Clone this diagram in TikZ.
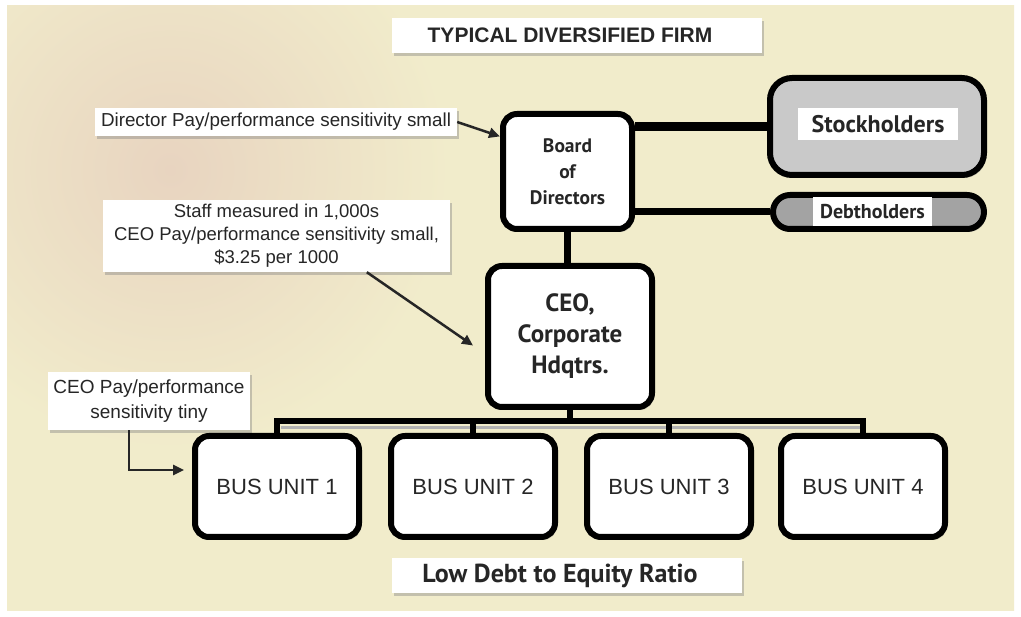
\documentclass[tikz,border=0pt]{standalone}
\usepackage{fontspec}
\setmainfont{Liberation Sans}
\newfontfamily\hum{PT Sans}
\usetikzlibrary{arrows.meta,shadows,calc}
\definecolor{bg}{HTML}{F1ECCB}
\definecolor{pinkbg}{HTML}{E8D4C0}
\definecolor{ink}{HTML}{262626}
\definecolor{stockgray}{HTML}{C9C9C9}
\definecolor{debtgray}{HTML}{A3A3A3}
\begin{document}
\begin{tikzpicture}[x=1pt,y=-1pt,
 unitbox/.style={draw=black, line width=6pt, rounded corners=14pt, fill=white, text=ink, align=center, inner sep=0pt,
   drop shadow={shadow xshift=2pt,shadow yshift=-3pt,opacity=.35,fill=gray}},
 lab/.style={fill=white, text=ink, align=center, inner sep=0pt,
   drop shadow={shadow xshift=1.5pt,shadow yshift=-3pt,opacity=.4,fill=gray}},
 inlab/.style={fill=white, text=ink, inner sep=0pt},
 conn/.style={line width=7pt, black},
 arr/.style={line width=2.5pt, -{Triangle[length=11pt,width=10pt]}, ink}
]
\fill[white] (0,0) rectangle (1021,617);
\begin{scope}
\clip (7,6) rectangle (1014,610);
\fill[bg] (0,0) rectangle (1021,617);
\shade[inner color=pinkbg, outer color=bg] (170,170) circle (280);
\end{scope}
\useasboundingbox (0,0) rectangle (1021,617);

% labels
\node[lab, minimum width=370pt, minimum height=35pt, font=\bfseries\fontsize{21}{24}\selectfont] (title) at (577,35.5) {TYPICAL DIVERSIFIED FIRM\hspace*{14pt}};
\node[lab, minimum width=362pt, minimum height=28pt, font=\fontsize{18.8}{20}\selectfont] (dirlab) at (276,122) {Director Pay/performance sensitivity small};
\node[lab, minimum width=347pt, minimum height=72pt, font=\fontsize{18.5}{23}\selectfont] (staff) at (276.5,236) {Staff measured in 1,000s\\CEO Pay/performance sensitivity small,\\\$3.25 per 1000};
\node[lab, minimum width=202pt, minimum height=58pt, font=\fontsize{19}{25}\selectfont] (ceolab) at (149,401) {CEO Pay/performance\\sensitivity tiny};
\node[lab, minimum width=350pt, minimum height=35pt, font=\hum\bfseries\fontsize{26}{28}\selectfont] (lowdebt) at (567,575.5) {Low Debt to Equity Ratio\hspace*{14pt}};

% boxes
\node[unitbox, minimum width=129pt, minimum height=115pt, font=\hum\bfseries\fontsize{19.5}{26}\selectfont] (board) at (567.5,171.5) {Board\\of\\Directors};
\node[unitbox, fill=stockgray, rounded corners=22pt, minimum width=214pt, minimum height=97pt] (stock) at (877,126.5) {};
\node[inlab, minimum width=160pt, minimum height=32pt, font=\hum\bfseries\fontsize{24}{26}\selectfont] (stocktxt) at (878,124) {Stockholders};
\node[unitbox, fill=debtgray, rounded corners=17pt, minimum width=211pt, minimum height=34pt] (debt) at (878.5,212) {};
\node[inlab, minimum width=119pt, minimum height=29pt, font=\hum\bfseries\fontsize{20}{22}\selectfont] (debttxt) at (872.5,211.5) {Debtholders};
\node[unitbox, minimum width=164pt, minimum height=141pt, font=\hum\bfseries\fontsize{25}{31}\selectfont] (ceo) at (570,336.5) {CEO,\\Corporate\\Hdqtrs.};
\foreach \i/\x in {1/277,2/473,3/669,4/863}{
  \node[unitbox, minimum width=164pt, minimum height=101pt, font=\fontsize{22}{24}\selectfont] (bus\i) at (\x,486.5) {BUS UNIT \i};
}

% connectors
\draw[line width=9pt] (board.east |- stock.west) -- (stock.west);
\draw[conn] (board.east |- debt.west) -- (debt.west);
\draw[conn] (board.south) -- (board.south |- ceo.north);
\coordinate (jn) at (567,421);
\draw[conn, line width=6pt] (ceo.south) -- (ceo.south |- jn);
\draw[gray!60, line width=3pt] ($(bus1.north |- jn)+(4,7)$) -- ($(bus4.north |- jn)+(0,7)$);
\draw[conn, line width=6pt] (bus1.north) -- (bus1.north |- jn) -- (bus4.north |- jn) -- (bus4.north);
\draw[conn, line width=6pt] (bus2.north) -- (bus2.north |- jn);
\draw[conn, line width=6pt] (bus3.north) -- (bus3.north |- jn);

% arrows
\draw[arr] (dirlab.east) -- ($(board.north west)!0.21!(board.south west)$);
\draw[arr] ($(staff.south)!0.52!(staff.south east)$) -- ($(ceo.west)+(-12,9)$);
\draw[arr] ($(ceolab.south west)!0.4!(ceolab.south east)$) |- ($(bus1.west)+(-8,-16.5)$);
\end{tikzpicture}
\end{document}
